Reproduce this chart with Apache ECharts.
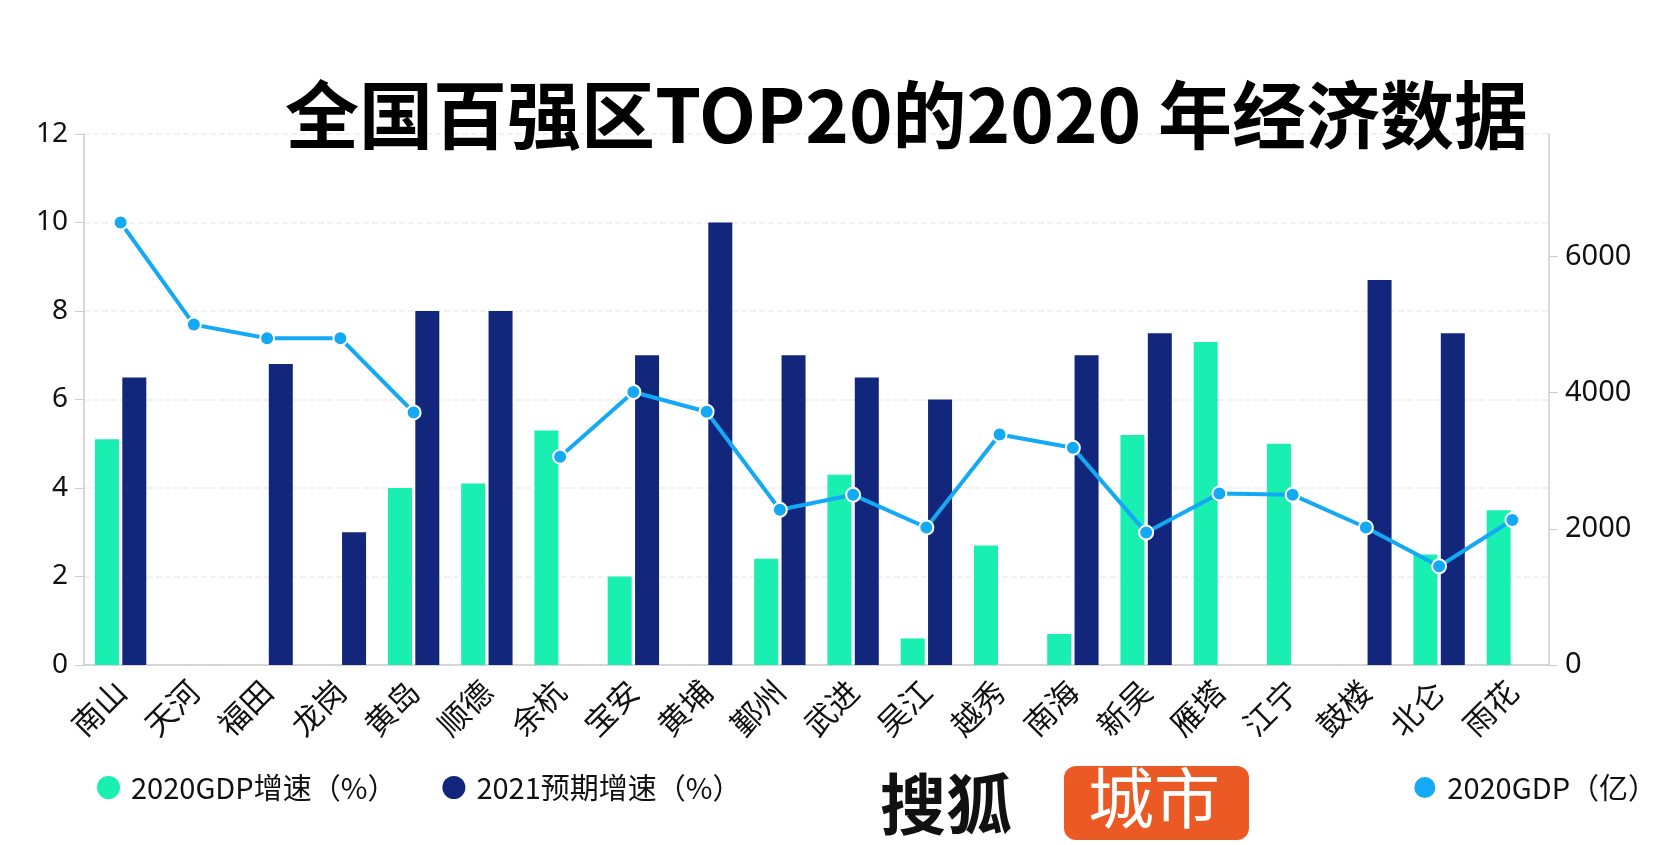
<!DOCTYPE html>
<html>
<head>
<meta charset="utf-8">
<script src="https://cdn.jsdelivr.net/npm/echarts@6/dist/echarts.min.js"></script>
<style>
html,body{margin:0;padding:0;background:#fff;}
#chart{width:1668px;height:845px;}
</style>
</head>
<body>
<div id="chart"></div>
<script>
const categories = ['南山','天河','福田','龙岗','黄岛','顺德','余杭','宝安','黄埔','鄞州','武进','吴江','越秀','南海','新吴','雁塔','江宁','鼓楼','北仑','雨花'];
const gdpGrowth2020 = [5.1, null, null, null, 4.0, 4.1, 5.3, 2.0, null, 2.4, 4.3, 0.6, 2.7, 0.7, 5.2, 7.3, 5.0, null, 2.5, 3.5];
const expectedGrowth2021 = [6.5, null, 6.8, 3.0, 8.0, 8.0, null, 7.0, 10.0, 7.0, 6.5, 6.0, null, 7.0, 7.5, null, null, 8.7, 7.5, null];
const gdp2020 = [6500, 5000, 4800, 4800, 3710, null, 3060, 4010, 3720, 2280, 2500, 2020, 3385, 3190, 1945, 2520, 2500, 2020, 1450, 2130];
const leftTicks = {min: 0, max: 12, interval: 2};
const rightTicks = {min: 0, max: 7800, interval: 2000};
</script>
<script>
const chart = echarts.init(document.getElementById('chart'), null, {renderer: 'canvas'});
const numFont = '"Noto Sans", "Noto Sans CJK SC", sans-serif';
const cjkFont = '"Noto Sans CJK SC", sans-serif';
const option = {
  backgroundColor: '#ffffff',
  animation: false,
  title: {
    text: '全国百强区TOP20的2020 年经济数据',
    left: 280,
    top: 73,
    textStyle: {fontFamily: cjkFont, fontSize: 74, fontWeight: 'bold', color: '#000000'}
  },
  legend: [
    {
      data: ['2020GDP增速（%）', '2021预期增速（%）'],
      left: 92, top: 768,
      icon: 'circle', itemWidth: 23, itemHeight: 23, itemGap: 46,
      textStyle: {fontFamily: cjkFont, fontSize: 29, color: '#111', padding: [0, 0, 0, 6]}
    },
    {
      data: ['2020GDP（亿）'],
      right: 6, top: 768,
      icon: 'circle', itemWidth: 23, itemHeight: 23,
      textStyle: {fontFamily: cjkFont, fontSize: 29, color: '#111', padding: [0, 0, 0, 6]}
    }
  ],
  grid: {left: 84, right: 119, top: 134, bottom: 180, containLabel: false},
  xAxis: {
    type: 'category',
    data: categories,
    axisLine: {lineStyle: {color: '#cccccc', width: 1.5}},
    axisTick: {alignWithLabel: true, length: 8, lineStyle: {color: '#cccccc'}},
    axisLabel: {rotate: 45, fontFamily: cjkFont, fontSize: 31, color: '#111', margin: 21}
  },
  yAxis: [
    {
      type: 'value', min: leftTicks.min, max: leftTicks.max, interval: leftTicks.interval,
      axisLine: {show: true, lineStyle: {color: '#cccccc', width: 1.5}},
      axisTick: {show: true, length: 9, lineStyle: {color: '#cccccc'}},
      axisLabel: {fontFamily: numFont, fontSize: 28, color: '#111', margin: 16},
      splitLine: {show: true, lineStyle: {color: '#eeeeee', type: 'dashed', width: 1.5}}
    },
    {
      type: 'value', min: rightTicks.min, max: rightTicks.max, interval: rightTicks.interval,
      position: 'right',
      axisLine: {show: true, lineStyle: {color: '#cccccc', width: 1.5}},
      axisTick: {show: true, length: 9, lineStyle: {color: '#cccccc'}},
      axisLabel: {fontFamily: numFont, fontSize: 29, color: '#111', margin: 16, showMaxLabel: false,
        formatter: function (v) { return String(v); }},
      splitLine: {show: false}
    }
  ],
  series: [
    {
      name: '2020GDP增速（%）', type: 'bar', data: gdpGrowth2020,
      barWidth: 24, barGap: '14%',
      itemStyle: {color: '#19EFB0'}
    },
    {
      name: '2021预期增速（%）', type: 'bar', data: expectedGrowth2021,
      barWidth: 24, barGap: '14%',
      itemStyle: {color: '#12277B'}
    },
    {
      name: '2020GDP（亿）', type: 'line', yAxisIndex: 1, data: gdp2020,
      connectNulls: false,
      symbol: 'circle', symbolSize: 14,
      lineStyle: {color: '#14A9F5', width: 4},
      itemStyle: {color: '#14A9F5', borderColor: '#ffffff', borderWidth: 2}
    }
  ],
  graphic: [
    {
      type: 'text', left: 880, top: 771,
      style: {text: '搜狐', fontFamily: cjkFont, fontSize: 66, fontWeight: 'bold', fill: '#111'}
    },
    {
      type: 'rect', left: 1064, top: 766,
      shape: {width: 185, height: 74, r: 12},
      style: {fill: '#EB5A24'}
    },
    {
      type: 'text', left: 1088, top: 765,
      style: {text: '城市', fontFamily: cjkFont, fontSize: 66, fill: '#ffffff'}
    }
  ]
};
chart.setOption(option);
</script>
</body>
</html>
